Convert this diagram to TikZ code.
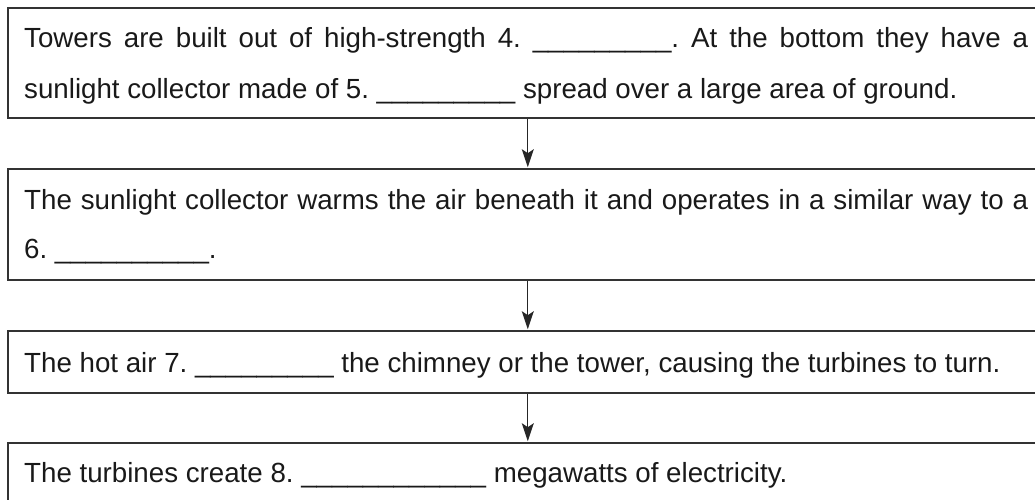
\documentclass[tikz,border=0pt]{standalone}
\usepackage{fontspec}
\setmainfont{Liberation Sans}
\usetikzlibrary{arrows.meta}
\frenchspacing

\begin{document}
\begin{tikzpicture}[x=1pt,y=-1pt,
  frame/.style={draw=black!80, line width=1.6pt, anchor=north west,
    minimum width=1040pt, inner sep=0pt},
  txt/.style={anchor=base west, inner sep=0pt, text width=1004pt,
    align=justify, text=black!90},
  flow/.style={-{Stealth[length=18pt,width=12pt,inset=4pt]},
    line width=1.3pt, draw=black!85, shorten >=0.8pt, shorten <=0.8pt}]
\useasboundingbox (0,0) rectangle (1035,499);
\clip (0,0) rectangle (1035,499);

% frames of the four steps (right side runs off the page)
\node[frame, minimum height=110pt] (b1) at (7,7) {};
\node[frame, minimum height=111pt] (b2) at (7,168) {};
\node[frame, minimum height=62pt]  (b3) at (7,330) {};
\node[frame, minimum height=70pt]  (b4) at (7,442) {};

% step texts
\node[txt, font=\fontsize{27.7}{51.5}\selectfont] (t1) at (24,47)
  {Towers are built out of high-strength 4. \_\_\_\_\_\_\_\_\_. At the bottom they have a\linebreak
   sunlight collector made of 5. \_\_\_\_\_\_\_\_\_ spread over a large area of ground.};
\node[txt, font=\fontsize{27.7}{49.5}\selectfont] (t2) at (24,209)
  {The sunlight collector warms the air beneath it and operates in a similar way to a\linebreak
   6. \_\_\_\_\_\_\_\_\_\_.};
\node[txt, font=\fontsize{27.7}{49.5}\selectfont] (t3) at (24,372)
  {The hot air 7. \_\_\_\_\_\_\_\_\_ the chimney or the tower, causing the turbines to turn.};
\node[txt, font=\fontsize{27.7}{49.5}\selectfont] (t4) at (24,482)
  {The turbines create 8. \_\_\_\_\_\_\_\_\_\_\_\_ megawatts of electricity.};

% arrows between the steps
\draw[flow] (b1.south) -- (b2.north);
\draw[flow] (b2.south) -- (b3.north);
\draw[flow] (b3.south) -- (b4.north);
\end{tikzpicture}
\end{document}
